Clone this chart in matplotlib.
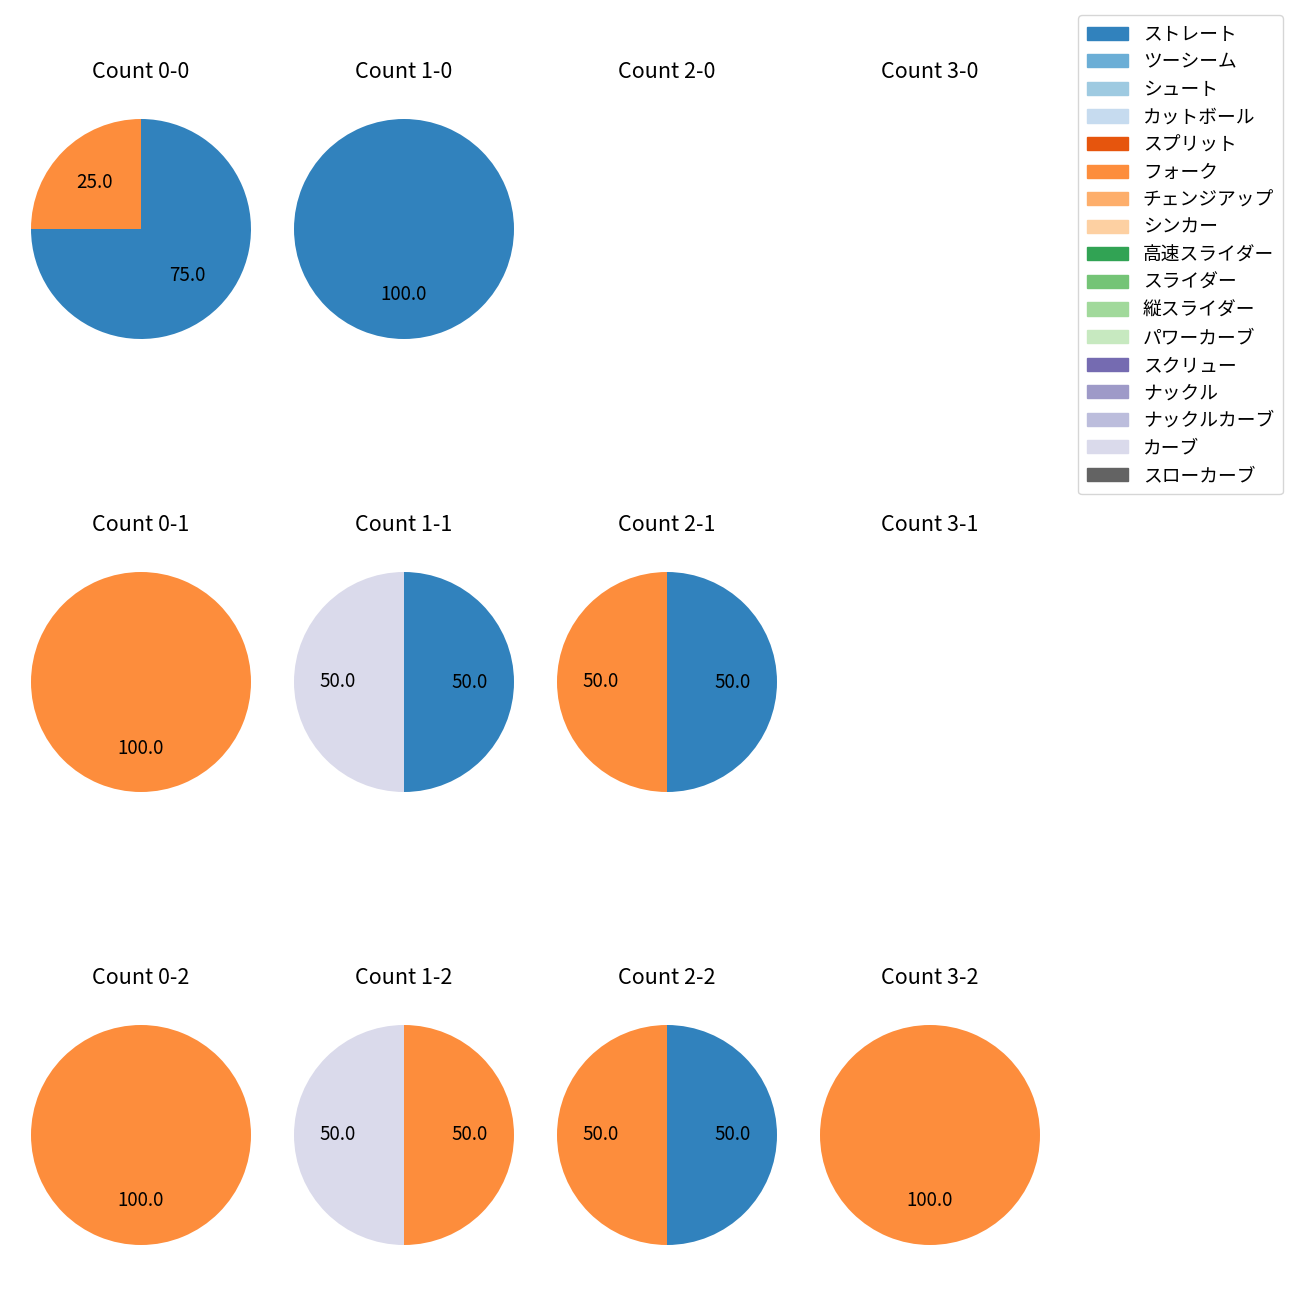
import matplotlib
matplotlib.use('Agg')
import matplotlib.pyplot as plt
from matplotlib.patches import Patch

plt.rcParams['font.family'] = ['Noto Sans CJK JP', 'DejaVu Sans']

pitch_types = ['ストレート', 'ツーシーム', 'シュート', 'カットボール', 'スプリット', 'フォーク',
               'チェンジアップ', 'シンカー', '高速スライダー', 'スライダー', '縦スライダー',
               'パワーカーブ', 'スクリュー', 'ナックル', 'ナックルカーブ', 'カーブ', 'スローカーブ']
colors = list(plt.get_cmap('tab20c').colors[:16]) + ['#636363']

# counts per situation: (balls, strikes) -> {pitch: share}
counts = {
    (0, 0): {'ストレート': 75, 'フォーク': 25},
    (1, 0): {'ストレート': 100},
    (2, 0): {},
    (3, 0): {},
    (0, 1): {'フォーク': 100},
    (1, 1): {'ストレート': 50, 'カーブ': 50},
    (2, 1): {'ストレート': 50, 'フォーク': 50},
    (3, 1): {},
    (0, 2): {'フォーク': 100},
    (1, 2): {'フォーク': 50, 'カーブ': 50},
    (2, 2): {'ストレート': 50, 'フォーク': 50},
    (3, 2): {'フォーク': 100},
}

fig = plt.figure(figsize=(13, 13), dpi=100)
W, H = 1300, 1300
size = 275
for s in range(3):
    for b in range(4):
        cx = 141 + 263 * b
        cy = 229 + 453 * s
        ax = fig.add_axes([(cx - size / 2) / W, 1 - (cy + size / 2) / H, size / W, size / H])
        ax.set_title(f'Count {b}-{s}', fontsize=15.5, pad=10)
        data = counts[(b, s)]
        if data:
            vals = [data[p] for p in pitch_types if p in data]
            cols = [colors[i] for i, p in enumerate(pitch_types) if p in data]
            ax.pie(vals, colors=cols, autopct='%.1f', startangle=90, counterclock=False,
                   textprops={'fontsize': 13.5})
        else:
            ax.set_xlim(-1.25, 1.25)
            ax.set_ylim(-1.25, 1.25)
            ax.set_aspect('equal')
        ax.axis('off')

handles = [Patch(color=c, label=p) for p, c in zip(pitch_types, colors)]
fig.legend(handles=handles, loc='upper right', bbox_to_anchor=(0.9938, 0.9953),
           fontsize=13.5, labelspacing=0.35, handlelength=2.2, borderpad=0.45)

fig.savefig('out.png')
